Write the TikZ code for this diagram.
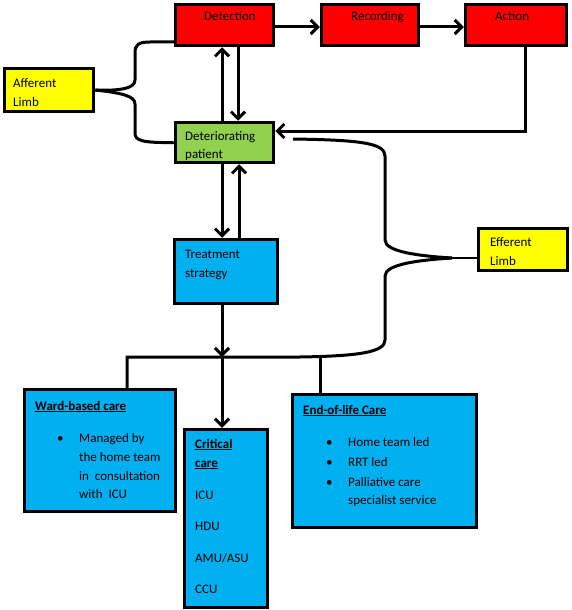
\documentclass[tikz,border=0pt]{standalone}
\usepackage{fontspec}
\setmainfont{Carlito}
\usetikzlibrary{arrows.meta,calc}
\definecolor{boxred}{HTML}{FF0000}
\definecolor{boxyellow}{HTML}{FFFF00}
\definecolor{boxgreen}{HTML}{92D050}
\definecolor{boxblue}{HTML}{00B0F0}
\tikzset{
  box/.style={draw=black, line width=3.5pt, rectangle, inner sep=0pt},
  txt/.style={anchor=base west, inner sep=0pt, font=\fontsize{13}{15}\selectfont},
  ln/.style={line width=3pt, black},
  arr/.style={line width=3pt, black, -{Straight Barb[length=7pt,width=14pt]}},
}
\begin{document}
\begin{tikzpicture}[x=1pt,y=-1pt]
\useasboundingbox (0,0) rectangle (571,610);
% boxes
\node[box, fill=boxred, minimum width=98pt, minimum height=41pt] (det) at (224.5,25) {};
\node[box, fill=boxred, minimum width=97pt, minimum height=41pt] (rec) at (370,25) {};
\node[box, fill=boxred, minimum width=101pt, minimum height=41pt] (act) at (516,25) {};
\node[box, fill=boxyellow, minimum width=89pt, minimum height=43pt] (aff) at (49,90) {};
\node[box, fill=boxgreen, minimum width=98pt, minimum height=40pt] (detp) at (224.5,142.5) {};
\node[box, fill=boxyellow, minimum width=89pt, minimum height=42pt] (eff) at (523,249.5) {};
\node[box, fill=boxblue, minimum width=103pt, minimum height=64pt] (treat) at (226,271.5) {};
\node[box, fill=boxblue, minimum width=151pt, minimum height=122pt] (ward) at (100,450.5) {};
\node[box, fill=boxblue, minimum width=83pt, minimum height=178pt] (crit) at (226,518.5) {};
\node[box, fill=boxblue, minimum width=184pt, minimum height=133pt] (eol) at (384.5,461) {};
% texts
\node[txt] (tdet) at (204,21) {Detection};
\node[txt] (trec) at (351,21) {Recording};
\node[txt] (tact) at (495,21) {Action};
\node[txt] (taff1) at (13,87) {Afferent};
\node[txt] (taff2) at (13,106) {Limb};
\node[txt] (tdp1) at (185,140) {Deteriorating};
\node[txt] (tdp2) at (185,158) {patient};
\node[txt] (ttr1) at (185,258) {Treatment};
\node[txt] (ttr2) at (185,277) {strategy};
\node[txt] (teff1) at (490,246) {Efferent};
\node[txt] (teff2) at (490,265) {Limb};
\node[txt] (tw0) at (35,410) {\textbf{\underline{Ward-based care}}};
\node[txt] (twb) at (57,442) {\textbullet};
\node[txt] (tw1) at (79,442) {Managed by};
\node[txt] (tw2) at (79,461) {the home team};
\node[txt] (tw3) at (79,480) {in\ \ consultation};
\node[txt] (tw4) at (79,498) {with\ \ ICU};
\node[txt] (tc1) at (195,448) {\textbf{\underline{Critical}}};
\node[txt] (tc2) at (195,467) {\textbf{\underline{care}}};
\node[txt] (tc3) at (195,499) {ICU};
\node[txt] (tc4) at (195,530) {HDU};
\node[txt] (tc5) at (195,562) {AMU/ASU};
\node[txt] (tc6) at (195,593) {CCU};
\node[txt] (te0) at (303,414) {\textbf{\underline{End-of-life Care}}};
\node[txt] (teb1) at (326,446) {\textbullet};
\node[txt] (teb2) at (326,466) {\textbullet};
\node[txt] (teb3) at (326,486) {\textbullet};
\node[txt] (te1) at (348,446) {Home team led};
\node[txt] (te2) at (348,466) {RRT led};
\node[txt] (te3) at (348,486) {Palliative care};
\node[txt] (te4) at (348,504) {specialist service};
% top row arrows
\draw[arr] ([yshift=-2pt]det.east) -- ([yshift=-2pt]rec.west);
\draw[arr] ([yshift=-2pt]rec.east) -- ([yshift=-2pt]act.west);
% det <-> detp
\draw[arr] ([xshift=-2.5pt]detp.north) -- ([xshift=-2.5pt]det.south);
\draw[arr] ([xshift=13.5pt]det.south) -- ([xshift=13.5pt]detp.north);
% detp <-> treat
\draw[arr] ([xshift=-2.5pt]detp.south) -- ([xshift=-4pt]treat.north);
\draw[arr] ([xshift=13pt]treat.north) -- ([xshift=14.5pt]detp.south);
% action back to detp
\draw[arr] ([xshift=9pt]act.south) |- ([yshift=11.5pt]detp.east);
% afferent brace
\draw[ln] ([yshift=-17pt]det.west) -- (150,42) .. controls (138,42) and (135,45) .. (135,53) -- (135,80) .. controls (135,88) and (122,91) .. (aff.east);
\draw[ln] (aff.east) .. controls (122,93) and (135,96) .. (135,104) -- (135,133) .. controls (135,140) and (140,143) .. (detp.west);
% efferent brace
\coordinate (etop) at (293,139);
\coordinate (etip) at (452,258);
\coordinate (j) at (222,357);
\draw[ln] (etop) .. controls (360,140) and (385,143) .. (385,156) -- (385,240) .. controls (385,252) and (420,256) .. (etip);
\draw[ln] (etip) .. controls (420,260) and (385,264) .. (385,276) -- (385,340) .. controls (385,352) and (360,356) .. (300,357) -- (127,357) -- ([xshift=27pt]ward.north);
\draw[line width=2pt] (etip) -- ([yshift=-8.5pt]eff.west);
\draw[ln] (320,357) -- ([xshift=-64.5pt]eol.north);
% treatment down
\draw[arr] ([xshift=-4pt]treat.south) -- (j);
\draw[arr] (j) -- ([xshift=-4pt]crit.north);
\end{tikzpicture}
\end{document}
